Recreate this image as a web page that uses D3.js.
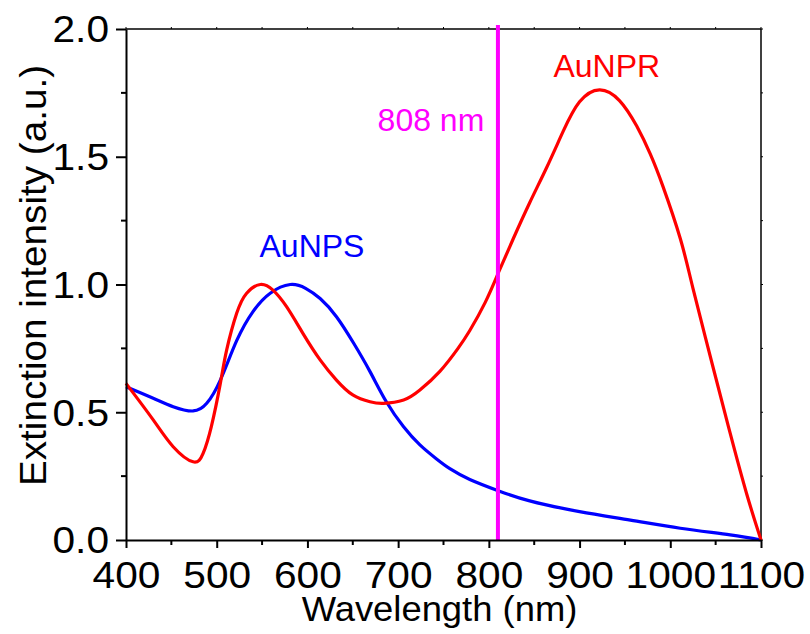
<!DOCTYPE html>
<html>
<head>
<meta charset="utf-8">
<script src="https://cdn.jsdelivr.net/npm/d3@7"></script>
<style>
  html, body { margin: 0; padding: 0; background: #fff; }
  text { font-family: "Liberation Sans", Arial, sans-serif; }
</style>
</head>
<body>
<svg id="chart" width="810" height="634"></svg>
<script>
// ---- data ----
const xTicks = [400, 500, 600, 700, 800, 900, 1000, 1100];
const yTicks = [0.0, 0.5, 1.0, 1.5, 2.0];

const wlNPS = [400,430,452,474,489,504,522,540,559,581,598,614,632,651,669,687,706,724,742,757,779,811,845,900,956,1011,1066,1100];
const valNPS = [0.60,0.555,0.522,0.505,0.535,0.626,0.78,0.894,0.966,1.0,0.985,0.945,0.874,0.77,0.659,0.541,0.443,0.372,0.318,0.279,0.237,0.192,0.153,0.111,0.078,0.046,0.02,0.0];

const wlNPR = [400,430,452,474,485,494,504,511,522,533,548,562,577,595,614,632,650,669,684,706,724,746,766,779,796,811,827,845,864,882,900,922,944,963,978,992,1011,1025,1047,1066,1084,1100];
const valNPR = [0.613,0.47,0.365,0.306,0.339,0.443,0.613,0.744,0.887,0.966,1.0,0.978,0.913,0.809,0.705,0.626,0.568,0.541,0.535,0.548,0.587,0.66,0.75,0.82,0.93,1.05,1.18,1.32,1.46,1.60,1.715,1.762,1.72,1.62,1.51,1.383,1.18,0.985,0.678,0.418,0.183,0.0];

const laserWl = 810;
const labels = [
  { text: "AuNPS", x: 605, y: 1.108, color: "#0000ff", anchor: "middle" },
  { text: "AuNPR", x: 930, y: 1.812, color: "#ff0000", anchor: "middle" },
  { text: "808 nm", x: 795, y: 1.60, color: "#ff00ff", anchor: "end" }
];

// ---- layout ----
const svg = d3.select("#chart");
const L = 126, R = 761, T = 29, B = 540;
const x = d3.scaleLinear().domain([400, 1100]).range([L, R]);
const y = d3.scaleLinear().domain([0, 2]).range([B, T]);

const xMinor = d3.range(400, 1101, 50);
const yMinor = d3.range(0, 2.001, 0.25);

// border top/right
const g = svg.append("g");
g.append("line").attr("x1", L).attr("x2", R).attr("y1", T).attr("y2", T)
  .attr("stroke", "#000").attr("stroke-width", 1.5);
g.append("line").attr("x1", R).attr("x2", R).attr("y1", T).attr("y2", B)
  .attr("stroke", "#000").attr("stroke-width", 1.5);
g.selectAll(".tt").data(xMinor).enter().append("line")
  .attr("x1", d => x(d)).attr("x2", d => x(d)).attr("y1", T).attr("y2", T - 2)
  .attr("stroke", "#000").attr("stroke-width", 1);
g.selectAll(".rt").data(yMinor).enter().append("line")
  .attr("x1", R).attr("x2", R + 2).attr("y1", d => y(d)).attr("y2", d => y(d))
  .attr("stroke", "#000").attr("stroke-width", 1);

// curves
const line = d3.line().x(d => x(d[0])).y(d => y(d[1])).curve(d3.curveNatural);
svg.append("path").datum(wlNPS.map((w, i) => [w, valNPS[i]]))
  .attr("d", line).attr("fill", "none").attr("stroke", "#0000ff").attr("stroke-width", 3.2);
svg.append("path").datum(wlNPR.map((w, i) => [w, valNPR[i]]))
  .attr("d", line).attr("fill", "none").attr("stroke", "#ff0000").attr("stroke-width", 3.2);

// laser line
svg.append("line").attr("x1", x(laserWl)).attr("x2", x(laserWl))
  .attr("y1", y(0)).attr("y2", y(2) - 4)
  .attr("stroke", "#ff00ff").attr("stroke-width", 4);

// axes
const xAxis = svg.append("g").attr("transform", `translate(0,${B})`)
  .call(d3.axisBottom(x).tickValues(xTicks).tickFormat(d3.format("d")).tickSize(8).tickSizeOuter(0));
const yAxis = svg.append("g").attr("transform", `translate(${L},0)`)
  .call(d3.axisLeft(y).tickValues(yTicks).tickFormat(d3.format(".1f")).tickSize(10).tickSizeOuter(0));
[xAxis, yAxis].forEach(a => {
  a.select(".domain").attr("stroke", "#000").attr("stroke-width", 2);
  a.selectAll(".tick line").attr("stroke", "#000").attr("stroke-width", 2);
  a.selectAll(".tick text").attr("fill", "#000").style("font-size", "36px")
    .style("font-family", '"Liberation Sans", Arial, sans-serif');
});
xAxis.selectAll(".tick text").attr("y", 0).attr("dy", null)
  .attr("transform", "translate(0,48) scale(1.13,1)");
yAxis.selectAll(".tick text").attr("x", 0).attr("dy", "0.36em")
  .attr("transform", "translate(-17,0) scale(1.13,1)");
// minor ticks
svg.append("g").selectAll("line").data(xMinor.filter(d => xTicks.indexOf(d) < 0)).enter().append("line")
  .attr("x1", d => x(d)).attr("x2", d => x(d)).attr("y1", B).attr("y2", B + 5)
  .attr("stroke", "#000").attr("stroke-width", 2);
svg.append("g").selectAll("line").data(yMinor.filter(d => Math.abs(d * 2 - Math.round(d * 2)) > 1e-6)).enter().append("line")
  .attr("x1", L - 5).attr("x2", L).attr("y1", d => y(d)).attr("y2", d => y(d))
  .attr("stroke", "#000").attr("stroke-width", 2);

// titles
svg.append("text").attr("transform", `translate(${(302 + 577) / 2},621) scale(1.04,1)`)
  .attr("text-anchor", "middle").style("font-size", "35px").attr("fill", "#000")
  .text("Wavelength (nm)");
svg.append("text").attr("transform", `translate(46,${(68 + 483) / 2}) rotate(-90) scale(1.045,1)`)
  .attr("text-anchor", "middle").style("font-size", "37px").attr("fill", "#000")
  .text("Extinction intensity (a.u.)");

// annotations
svg.append("g").selectAll("text").data(labels).enter().append("text")
  .attr("x", d => x(d.x)).attr("y", d => y(d.y))
  .attr("text-anchor", d => d.anchor).attr("fill", d => d.color)
  .style("font-size", "32px").text(d => d.text);
</script>
</body>
</html>
